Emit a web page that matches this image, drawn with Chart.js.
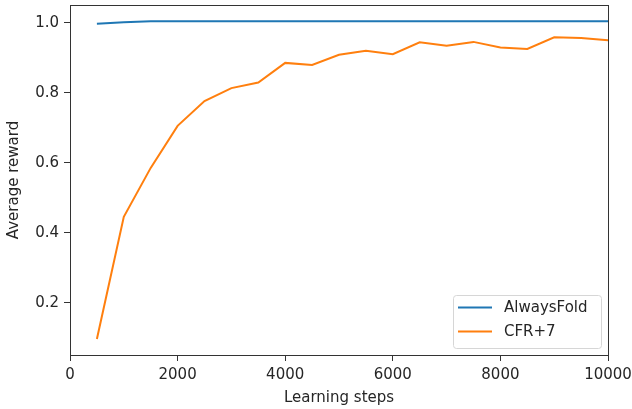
<!DOCTYPE html>
<html>
<head>
<meta charset="utf-8">
<script src="https://cdn.jsdelivr.net/npm/chart.js@4.4.1/dist/chart.umd.min.js"></script>
<style>
  html, body { margin: 0; padding: 0; background: #fff; }
  #wrap { width: 632px; height: 409px; }
</style>
</head>
<body>
<div id="wrap"><canvas id="rewardChart" width="632" height="409"></canvas></div>
<script>
// Data
const steps = [500, 1000, 1500, 2000, 2500, 3000, 3500, 4000, 4500, 5000,
               5500, 6000, 6500, 7000, 7500, 8000, 8500, 9000, 9500, 10000];
const alwaysFold = [0.998, 1.002, 1.005, 1.005, 1.005, 1.005, 1.005, 1.005, 1.005, 1.005,
                    1.005, 1.005, 1.005, 1.005, 1.005, 1.005, 1.005, 1.005, 1.005, 1.005];
const cfr7 = [0.097, 0.446, 0.586, 0.706, 0.777, 0.814, 0.830, 0.886, 0.880, 0.909,
              0.921, 0.911, 0.945, 0.935, 0.946, 0.930, 0.926, 0.959, 0.957, 0.951];
const seriesNames = ['AlwaysFold', 'CFR+7'];
const seriesColors = ['#1f77b4', '#ff7f0e'];
const xTicks = [0, 2000, 4000, 6000, 8000, 10000];
const yTicks = [0.2, 0.4, 0.6, 0.8, 1.0];

const FONT = 'DejaVu Sans';
const FSIZE = 15;
const TEXT = '#262626';

function toPoints(ys) {
    return steps.map((s, i) => ({ x: s, y: ys[i] }));
}

// full box around the axes, like matplotlib
const frame = {
    id: 'frame',
    afterDatasetsDraw(chart) {
        const a = chart.chartArea, ctx = chart.ctx;
        ctx.save();
        ctx.strokeStyle = '#333';
        ctx.lineWidth = 1;
        ctx.strokeRect(Math.round(a.left) + 0.5, Math.round(a.top) + 0.5,
                       Math.round(a.right - a.left), Math.round(a.bottom - a.top));
        ctx.restore();
    }
};

// legend in the lower right corner of the plot
const boxLegend = {
    id: 'boxLegend',
    afterDraw(chart) {
        const a = chart.chartArea, ctx = chart.ctx;
        const w = 148, h = 53;
        const x = a.right - 7 - w, y = a.bottom - 7 - h;
        ctx.save();
        ctx.beginPath();
        ctx.roundRect(x + 0.5, y + 0.5, w, h, 3);
        ctx.fillStyle = 'rgba(255,255,255,0.8)';
        ctx.fill();
        ctx.strokeStyle = '#d6d6d6';
        ctx.lineWidth = 1;
        ctx.stroke();
        ctx.font = FSIZE + 'px "' + FONT + '"';
        ctx.textBaseline = 'middle';
        chart.data.datasets.forEach((ds, i) => {
            const ry = y + 12.5 + i * 24;
            ctx.strokeStyle = ds.borderColor;
            ctx.lineWidth = 2;
            ctx.beginPath();
            ctx.moveTo(x + 5, ry);
            ctx.lineTo(x + 39, ry);
            ctx.stroke();
            ctx.fillStyle = TEXT;
            ctx.fillText(ds.label, x + 51, ry + 1);
        });
        ctx.restore();
    }
};

new Chart(document.getElementById('rewardChart'), {
    type: 'line',
    data: {
        datasets: [
            { label: seriesNames[0], data: toPoints(alwaysFold), borderColor: seriesColors[0] },
            { label: seriesNames[1], data: toPoints(cfr7), borderColor: seriesColors[1] }
        ].map(d => Object.assign(d, {
            borderWidth: 2,
            pointRadius: 0,
            tension: 0,
            fill: false
        }))
    },
    options: {
        responsive: false,
        animation: false,
        devicePixelRatio: 1,
        layout: { padding: { top: 5, right: 24, left: 0, bottom: 0 } },
        plugins: {
            legend: { display: false },
            tooltip: { enabled: false }
        },
        scales: {
            x: {
                type: 'linear',
                min: 0,
                max: 10000,
                afterBuildTicks: s => { s.ticks = xTicks.map(v => ({ value: v })); },
                afterFit: s => { s.height = 54; s.paddingLeft = 0; s.paddingRight = 0; },
                border: { display: false },
                grid: { drawOnChartArea: false, drawTicks: true, tickLength: 6, tickColor: '#333' },
                ticks: {
                    color: TEXT,
                    padding: 5,
                    maxRotation: 0,
                    font: { family: FONT, size: FSIZE },
                    callback: v => String(v)
                },
                title: {
                    display: true,
                    text: 'Learning steps',
                    color: TEXT,
                    padding: { top: 2, bottom: 2 },
                    font: { family: FONT, size: FSIZE }
                }
            },
            y: {
                min: 0.0514,
                max: 1.0514,
                afterBuildTicks: s => { s.ticks = yTicks.map(v => ({ value: v })); },
                afterFit: s => { s.width = 70; s.paddingTop = 0; s.paddingBottom = 0; },
                border: { display: false },
                grid: { drawOnChartArea: false, drawTicks: true, tickLength: 6, tickColor: '#333' },
                ticks: {
                    color: TEXT,
                    padding: 5,
                    font: { family: FONT, size: FSIZE },
                    callback: v => v.toFixed(1)
                },
                title: {
                    display: true,
                    text: 'Average reward',
                    color: TEXT,
                    padding: { top: 5, bottom: 4 },
                    font: { family: FONT, size: FSIZE }
                }
            }
        }
    },
    plugins: [frame, boxLegend]
});
</script>
</body>
</html>
